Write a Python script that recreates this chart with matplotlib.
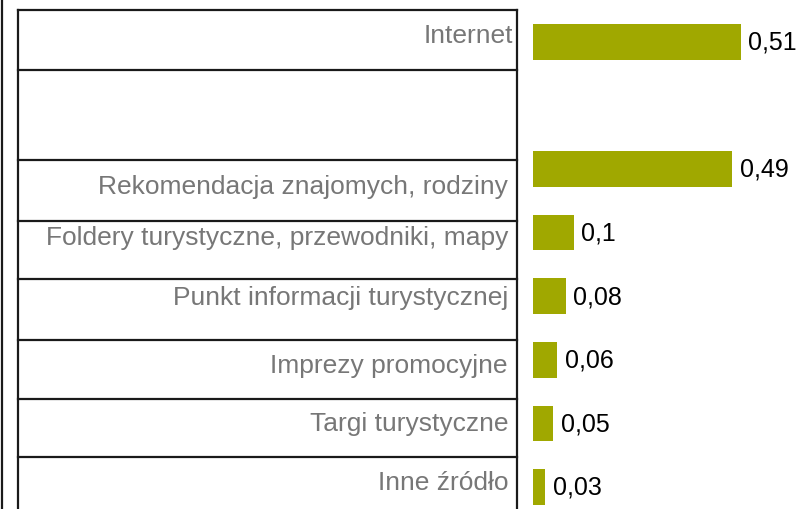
import matplotlib
matplotlib.use("Agg")
import matplotlib.pyplot as plt

# ── Data ─────────────────────────────────────────────────────────────
categories = ["Internet", "", "Rekomendacja znajomych, rodziny",
              "Foldery turystyczne, przewodniki, mapy",
              "Punkt informacji turystycznej", "Imprezy promocyjne",
              "Targi turystyczne", "Inne źródło"]
values = [0.51, None, 0.49, 0.10, 0.08, 0.06, 0.05, 0.03]
value_labels = ["0,51", "", "0,49", "0,1", "0,08", "0,06", "0,05", "0,03"]

# ── Layout (pixels, figure is 799x510) ───────────────────────────────
W, H = 799, 510
BAR_X0 = 533          # where the bars start
PX_PER_UNIT = 407     # bar length scale
SLOT0 = 42.8          # centre of first bar slot
SLOT = 63.6           # slot spacing
row_edges = [11, 71, 161, 222, 280, 341, 400, 458]
label_y = [36, None, 187, 238, 298, 366, 424, 483]
label_x = [513, None, 508, 508, 508, 508, 508, 508]

BAR_COLOR = "#A0A800"
GREY = "#777777"

fig = plt.figure(figsize=(W / 100, H / 100), dpi=100)

# table / label layer in pixel coordinates
ax0 = fig.add_axes([0, 0, 1, 1])
ax0.set_xlim(0, W)
ax0.set_ylim(H, 0)
ax0.axis("off")

lw = 1.6
ax0.plot([2, 2], [0, H], color="#1a1a1a", lw=lw)
ax0.plot([17.5, 17.5], [row_edges[0], H], color="#1a1a1a", lw=lw)
ax0.plot([517, 517], [row_edges[0], H], color="#1a1a1a", lw=lw)
for y in row_edges:
    ax0.plot([17.5, 517], [y, y], color="#1a1a1a", lw=lw)

for name, x, y in zip(categories, label_x, label_y):
    if name:
        ax0.text(x, y, name, ha="right", va="center", fontsize=19,
                 color=GREY, family="Liberation Sans")

# bar layer
ax = fig.add_axes([BAR_X0 / W, 0, (W - BAR_X0) / W, 1])
ax.patch.set_alpha(0)
ypos = list(range(len(categories)))
bar_vals = [v if v is not None else 0 for v in values]
ax.barh(ypos, bar_vals, height=0.56, color=BAR_COLOR)
ax.set_xlim(0, (W - BAR_X0) / PX_PER_UNIT)
ax.set_ylim((H - SLOT0) / SLOT, -SLOT0 / SLOT)
ax.axis("off")

for yp, v, lab in zip(ypos, values, value_labels):
    if v is not None:
        ax.annotate(lab, (v, yp), xytext=(5.5, 0), textcoords="offset points",
                    ha="left", va="center", fontsize=18, color="black",
                    family="Liberation Sans")

fig.savefig("out.png", dpi=100)
